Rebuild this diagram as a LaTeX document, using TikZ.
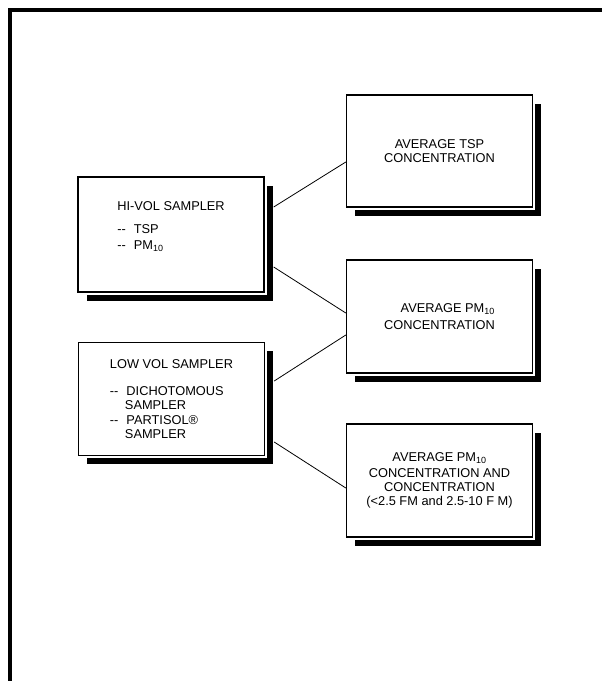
\documentclass[tikz,border=0pt]{standalone}
\usepackage{fontspec}
\setmainfont{Liberation Sans}
\usetikzlibrary{shadows, positioning}

\newcommand{\dashitem}{-{}-\hspace{8pt}}

\tikzset{
  sampbox/.style={draw, line width=1.4pt, fill=white, inner sep=0pt,
    minimum width=186pt, minimum height=113pt,
    font=\fontsize{12.8}{14.2}\selectfont,
    drop shadow={shadow xshift=8.5pt, shadow yshift=-8.5pt, opacity=1, fill=black},
    preaction={draw=white, line width=5pt}},
  link/.style={line width=0.8pt},
}

\begin{document}
\begin{tikzpicture}[x=1pt, y=1pt]
  \useasboundingbox (0,0) rectangle (602,-681);

  % page frame
  \draw[line width=3.5pt] (10,-681) -- (10,-10) -- (602,-10);

  % samplers
  \node[sampbox, minimum height=115pt, align=left] (hivol) at (171,-234.5) {
    HI-VOL SAMPLER\\[9pt]
    \dashitem TSP\\[1pt]
    \dashitem PM\textsubscript{10}\\[4pt]
  };
  \node[sampbox, align=left] (lowvol) at (171.5,-399) {
    LOW VOL SAMPLER\\[13pt]
    \dashitem DICHOTOMOUS\\
    \hspace*{15pt}SAMPLER\\
    \dashitem PARTISOL®\\
    \hspace*{15pt}SAMPLER
  };

  % averages
  \node[sampbox, minimum height=112pt, align=center] (tsp) at (439.5,-151) {
    AVERAGE TSP\\
    CONCENTRATION
  };
  \node[sampbox, align=right] (pmten) at (439.5,-316.5) {
    AVERAGE PM\textsubscript{10}\\[2pt]
    CONCENTRATION
  };
  \node[sampbox, align=center] (pmfine) at (439.5,-480.5) {
    AVERAGE PM\textsubscript{10}\\[1pt]
    CONCENTRATION AND\\
    CONCENTRATION\\
    (<2.5 FM and 2.5-10 F M)
  };

  % links
  \draw[link] ([xshift=9pt, yshift=27.5pt]hivol.east) -- ([yshift=-11pt]tsp.west);
  \draw[link] ([xshift=9pt, yshift=-32.5pt]hivol.east) -- ([yshift=3.5pt]pmten.west);
  \draw[link] ([xshift=9pt, yshift=18pt]lowvol.east) -- ([yshift=-18.5pt]pmten.west);
  \draw[link] ([xshift=9pt, yshift=-43pt]lowvol.east) -- ([yshift=-7.5pt]pmfine.west);
\end{tikzpicture}
\end{document}
